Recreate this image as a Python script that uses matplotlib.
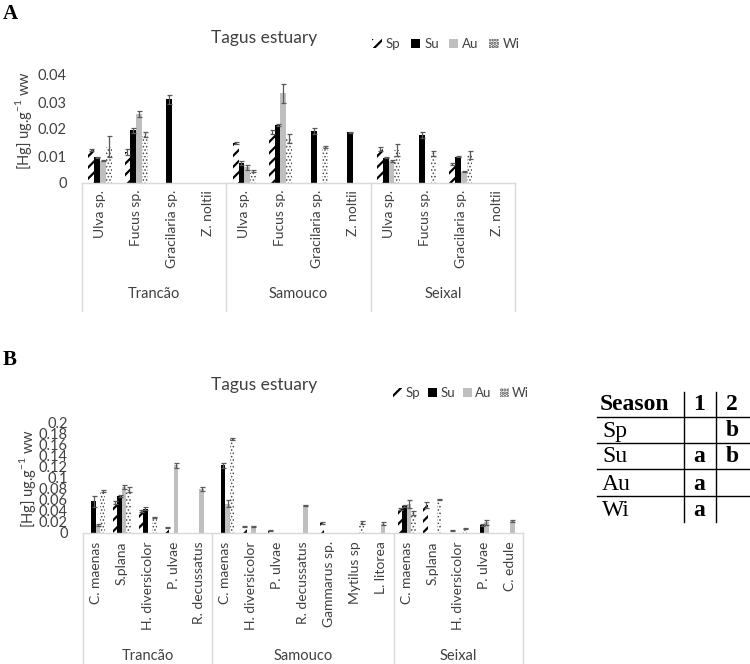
import numpy as np
import matplotlib
matplotlib.use('Agg')
import matplotlib.pyplot as plt
from matplotlib.patches import Rectangle
import matplotlib.transforms as mtransforms

plt.rcParams['font.family'] = ['Lato', 'DejaVu Sans']
plt.rcParams['hatch.linewidth'] = 1.6

nan = np.nan

# ---------------- data ----------------
seasons = ['Sp', 'Su', 'Au', 'Wi']
sites = ['Trancão', 'Samouco', 'Seixal']

# Panel A (macroalgae / plants)
species_A = ['Ulva sp.', 'Fucus sp.', 'Gracilaria sp.', 'Z. noltii',
             'Ulva sp.', 'Fucus sp.', 'Gracilaria sp.', 'Z. noltii',
             'Ulva sp.', 'Fucus sp.', 'Gracilaria sp.', 'Z. noltii']
group_sizes_A = [4, 4, 4]
sp_A = [0.0122, 0.0115, nan, nan, 0.0148, 0.0190, nan, nan, 0.0127, nan, 0.0070, nan]
su_A = [0.0095, 0.0195, 0.0310, nan, 0.0075, 0.0215, 0.0193, 0.0188, 0.0093, 0.0178, 0.0098, nan]
au_A = [0.0083, 0.0255, nan, nan, 0.0058, 0.0332, nan, nan, 0.0082, nan, 0.0042, nan]
wi_A = [0.0135, 0.0180, nan, nan, 0.0045, 0.0165, 0.0133, nan, 0.0123, 0.0110, 0.0103, nan]
sp_A_err = [0.0004, 0.0010, 0, 0, 0.0003, 0.0008, 0, 0, 0.0008, 0, 0.0004, 0]
su_A_err = [0.0003, 0.0008, 0.0017, 0, 0.0008, 0.0003, 0.0010, 0.0002, 0.0002, 0.0010, 0.0003, 0]
au_A_err = [0.0002, 0.0010, 0, 0, 0.0010, 0.0035, 0, 0, 0.0005, 0, 0.0002, 0]
wi_A_err = [0.0040, 0.0010, 0, 0, 0.0003, 0.0015, 0.0003, 0, 0.0022, 0.0010, 0.0014, 0]
yticks_A = [0, 0.01, 0.02, 0.03, 0.04]
yticklabels_A = ['0', '0.01', '0.02', '0.03', '0.04']

# Panel B (invertebrates)
species_B = ['C. maenas', 'S.plana', 'H. diversicolor', 'P. ulvae', 'R. decussatus',
             'C. maenas', 'H. diversicolor', 'P. ulvae', 'R. decussatus', 'Gammarus sp.',
             'Mytilus sp', 'L. litorea',
             'C. maenas', 'S.plana', 'H. diversicolor', 'P. ulvae', 'C. edule']
group_sizes_B = [5, 7, 5]
sp_B = [nan, 0.055, 0.040, 0.010, nan, nan, 0.012, 0.004, nan, 0.018, nan, nan,
        0.043, 0.050, 0.005, nan, nan]
su_B = [0.057, 0.066, 0.044, nan, nan, 0.122, nan, nan, nan, nan, nan, nan,
        0.049, nan, nan, 0.014, nan]
au_B = [0.015, 0.083, nan, 0.122, 0.079, 0.053, 0.012, nan, 0.050, nan, nan, 0.017,
        0.052, nan, nan, 0.019, 0.021]
wi_B = [0.076, 0.078, 0.028, nan, nan, 0.170, nan, nan, nan, nan, 0.019, nan,
        0.036, 0.060, 0.008, nan, nan]
sp_B_err = [0, 0.003, 0.002, 0.001, 0, 0, 0.001, 0.001, 0, 0.002, 0, 0,
            0.002, 0.005, 0.001, 0, 0]
su_B_err = [0.010, 0.002, 0.002, 0, 0, 0.004, 0, 0, 0, 0, 0, 0,
            0.002, 0, 0, 0.002, 0]
au_B_err = [0.002, 0.003, 0, 0.004, 0.003, 0.007, 0.001, 0, 0.001, 0, 0, 0.002,
            0.007, 0, 0, 0.005, 0.002]
wi_B_err = [0.002, 0.004, 0.001, 0, 0, 0.002, 0, 0, 0, 0, 0.002, 0,
            0.004, 0.001, 0.001, 0, 0]
yticks_B = [0, 0.02, 0.04, 0.06, 0.08, 0.1, 0.12, 0.14, 0.16, 0.18, 0.2]
yticklabels_B = ['0', '0.02', '0.04', '0.06', '0.08', '0.1', '0.12', '0.14', '0.16', '0.18', '0.2']

# Significance table
table_header = ['Season', '1', '2']
table_col1 = ['', 'a', 'a', 'a']
table_col2 = ['b', 'b', '', '']

# ---------------- styles ----------------
styles = {
    'Sp': dict(facecolor='white', hatch='///', edgecolor='black'),
    'Su': dict(facecolor='black', edgecolor='black'),
    'Au': dict(facecolor='#BFBFBF', edgecolor='#BFBFBF'),
    'Wi': dict(facecolor='white', hatch='.....', edgecolor='#444444'),
}
hatch_lw = {'Sp': 1.6, 'Su': 1.0, 'Au': 1.0, 'Wi': 0.7}
ERR_C = '#595959'
LINE_C = '#D9D9D9'
TXT_C = '#404040'

W, H = 750, 664
fig = plt.figure(figsize=(W / 100, H / 100), dpi=100)


def rect(l, r, t, b):
    return [l / W, 1 - b / H, (r - l) / W, (b - t) / H]


def set_hlw(patch, s):
    if hasattr(patch, 'set_hatch_linewidth'):
        patch.set_hatch_linewidth(hatch_lw[s])


def draw_panel(ax, values, errors, width, yticks, yticklabels, species, group_sizes,
               ax_h_px, label_pad, group_px, line_px):
    n = len(species)
    x = np.arange(n)
    for i, s in enumerate(seasons):
        v = np.array(values[i], float)
        e = np.array(errors[i], float)
        m = ~np.isnan(v)
        off = (i - 1.5) * width
        bars = ax.bar(x[m] + off, v[m], width, linewidth=0, **styles[s])
        for p in bars:
            set_hlw(p, s)
        ax.errorbar(x[m] + off, v[m], yerr=e[m], fmt='none', ecolor=ERR_C,
                    elinewidth=0.9, capsize=1.8, capthick=0.9)
    ax.set_xlim(-0.5, n - 0.5)
    ax.set_ylim(yticks[0], yticks[-1])
    ax.set_yticks(yticks)
    ax.set_yticklabels(yticklabels, fontsize=10.5, color=TXT_C)
    ax.tick_params(axis='y', length=0, pad=11)
    ax.set_xticks(x)
    ax.set_xticklabels(species, rotation=90, fontsize=10, color=TXT_C)
    ax.tick_params(axis='x', length=0, pad=label_pad)
    for sp in ['top', 'right', 'left']:
        ax.spines[sp].set_visible(False)
    ax.spines['bottom'].set_color(LINE_C)
    ax.spines['bottom'].set_linewidth(1)
    tr = mtransforms.blended_transform_factory(ax.transData, ax.transAxes)
    bounds = np.concatenate([[0], np.cumsum(group_sizes)]) - 0.5
    for b in bounds:
        ax.plot([b, b], [0, -line_px / ax_h_px], transform=tr, clip_on=False,
                color=LINE_C, lw=1)
    for k, name in enumerate(sites):
        c = (bounds[k] + bounds[k + 1]) / 2
        ax.text(c, -group_px / ax_h_px, name, transform=tr, ha='center', va='center',
                fontsize=10.5, color=TXT_C)


def make_handles():
    hs = []
    for s in seasons:
        r = Rectangle((0, 0), 1, 1, linewidth=0, **styles[s])
        set_hlw(r, s)
        hs.append(r)
    return hs


# ---------------- Panel A ----------------
axA = fig.add_axes(rect(82, 515, 75, 183))
draw_panel(axA, [sp_A, su_A, au_A, wi_A], [sp_A_err, su_A_err, au_A_err, wi_A_err],
           0.16, yticks_A, yticklabels_A, species_A, group_sizes_A,
           108, 5, 111, 128)
fig.text(23 / W, 1 - 120 / H, r'[Hg] ug.g$^{\mathregular{-1}}$ ww', rotation=90,
         ha='center', va='center', fontsize=10.5, color=TXT_C)
fig.text(264 / W, 1 - 38 / H, 'Tagus estuary', ha='center', va='center', fontsize=12.5,
         color=TXT_C)
fig.legend(make_handles(), seasons, loc='center', bbox_to_anchor=(446 / W, 1 - 44 / H),
           ncol=4, frameon=False, handlelength=0.7, handleheight=0.7, handletextpad=0.3,
           columnspacing=0.8, fontsize=9.5, labelcolor=TXT_C)
fig.text(10 / W, 1 - 14 / H, 'A', ha='center', va='center', fontsize=15,
         fontweight='bold', family='Liberation Serif')

# ---------------- Panel B ----------------
axB = fig.add_axes(rect(83, 523, 422, 533))
draw_panel(axB, [sp_B, su_B, au_B, wi_B], [sp_B_err, su_B_err, au_B_err, wi_B_err],
           0.174, yticks_B, yticklabels_B, species_B, group_sizes_B,
           111, 6, 123, 131)
fig.text(28 / W, 1 - 478 / H, r'[Hg] ug.g$^{\mathregular{-1}}$ ww', rotation=90,
         ha='center', va='center', fontsize=10.5, color=TXT_C)
fig.text(264 / W, 1 - 385 / H, 'Tagus estuary', ha='center', va='center', fontsize=12.5,
         color=TXT_C)
fig.legend(make_handles(), seasons, loc='center', bbox_to_anchor=(461 / W, 1 - 393 / H),
           ncol=4, frameon=False, handlelength=0.7, handleheight=0.7, handletextpad=0.25,
           columnspacing=0.6, fontsize=9.5, labelcolor=TXT_C)
fig.text(10 / W, 1 - 360 / H, 'B', ha='center', va='center', fontsize=15,
         fontweight='bold', family='Liberation Serif')

# ---------------- Table ----------------
row_y = [405, 431, 457, 484, 510]
tfont = dict(family='Liberation Serif', fontsize=17, va='center')
fig.text(600 / W, 1 - row_y[0] / H, table_header[0], ha='left', fontweight='bold', **tfont)
fig.text(699 / W, 1 - row_y[0] / H, table_header[1], ha='center', fontweight='bold', **tfont)
fig.text(732 / W, 1 - row_y[0] / H, table_header[2], ha='center', fontweight='bold', **tfont)
for r, s in enumerate(seasons):
    y = 1 - row_y[r + 1] / H
    fig.text(602 / W, y, s, ha='left', **tfont)
    fig.text(699 / W, y, table_col1[r], ha='center', fontweight='bold', **tfont)
    fig.text(732 / W, y, table_col2[r], ha='center', fontweight='bold', **tfont)
for yl in [417, 443, 469, 496]:
    fig.add_artist(plt.Line2D([597 / W, 1.0], [1 - yl / H, 1 - yl / H],
                              transform=fig.transFigure, color='black', lw=1))
for xl in [684, 716]:
    fig.add_artist(plt.Line2D([xl / W, xl / W], [1 - 392 / H, 1 - 522 / H],
                              transform=fig.transFigure, color='black', lw=1))

fig.savefig('out.png', dpi=100)
